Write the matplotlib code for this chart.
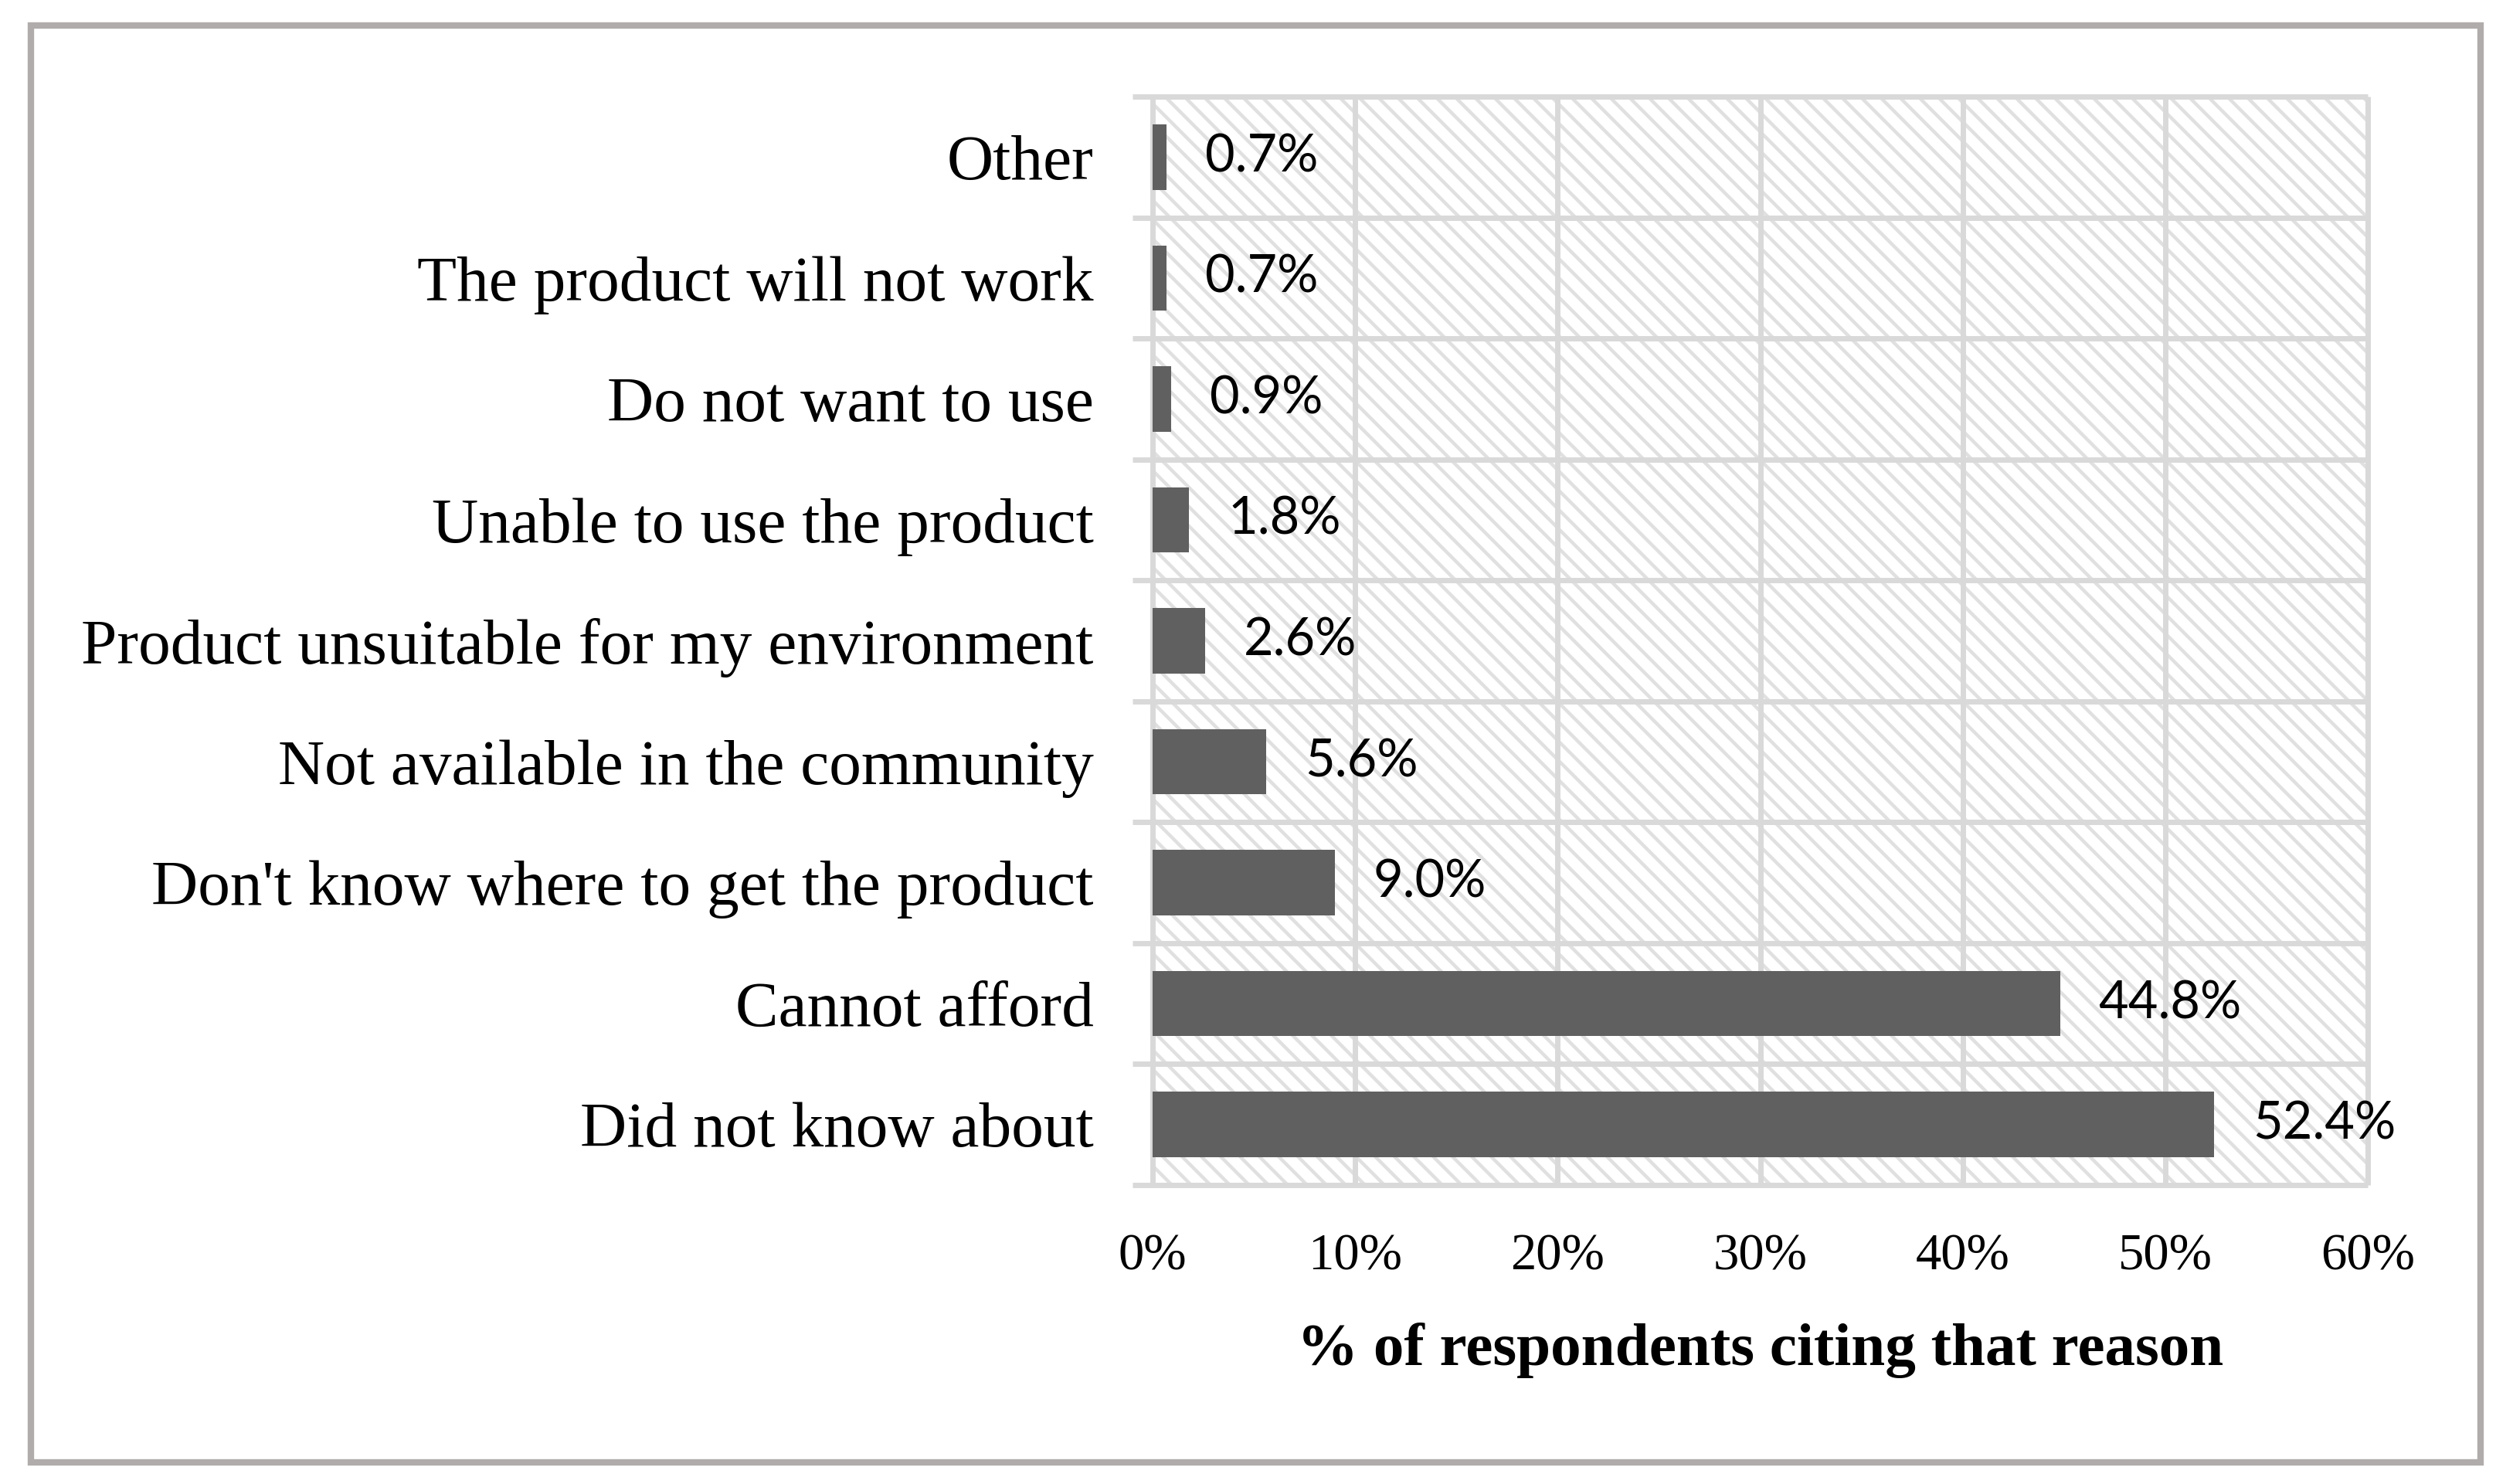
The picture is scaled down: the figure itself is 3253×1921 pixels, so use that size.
import matplotlib
matplotlib.use("Agg")
import matplotlib.pyplot as plt
from matplotlib.patches import Rectangle
from matplotlib.collections import LineCollection
import numpy as np

# reasons, bottom to top
reasons = ["Did not know about", "Cannot afford", "Don't know where to get the product",
           "Not available in the community", "Product unsuitable for my environment",
           "Unable to use the product", "Do not want to use", "The product will not work",
           "Other"]
pct = [52.4, 44.8, 9.0, 5.6, 2.6, 1.8, 0.9, 0.7, 0.7]
xticks = [0, 10, 20, 30, 40, 50, 60]

grid_col = "#d9d9d9"
bar_col = "#606060"
serif = ["Liberation Serif", "DejaVu Serif"]
sans = ["Lato", "DejaVu Sans"]

fig = plt.figure(figsize=(32.53, 19.21), dpi=100)
ax_px = (1492, 1534, 3065, 125)  # left, bottom, right, top in image pixels
W, H = ax_px[2] - ax_px[0], ax_px[1] - ax_px[3]
ax = fig.add_axes([ax_px[0]/3253, 1 - ax_px[1]/1921, W/3253, H/1921])

n = len(reasons)
y = np.arange(n)
ax.set_xlim(0, 60)
ax.set_ylim(-0.5, n - 0.5)

# diagonal stripe texture in the plot area (like excel's wide downward diagonal)
step = 25
segs = []
for x0 in np.arange(-H, W + step, step):
    segs.append([(x0 / W, 1.0), ((x0 + H) / W, 0.0)])
stripes = LineCollection(segs, transform=ax.transAxes, colors="#e0e0e0",
                         linewidths=3.2, zorder=0)
ax.add_collection(stripes, autolim=False)

# grid lines
ax.vlines(xticks, -0.5, n - 0.5, color=grid_col, lw=5, zorder=1, clip_on=False)
ax.hlines(np.arange(n + 1) - 0.5, -1.0, 60, color=grid_col, lw=5, zorder=1, clip_on=False)

ax.barh(y, pct, height=0.54, color=bar_col, zorder=2)

for yi, v in zip(y, pct):
    ax.annotate(f"{v:.1f}%", (v, yi), xytext=(36, 0), textcoords="offset points",
                ha="left", va="center", fontsize=48, family=sans, color="black", zorder=3)

ax.set_yticks(y)
ax.set_yticklabels(reasons, family=serif, fontsize=60)
ax.set_xticks(xticks)
ax.set_xticklabels([f"{t}%" for t in xticks], family=serif, fontsize=48)
ax.tick_params(axis="y", length=0, pad=55)
ax.tick_params(axis="x", length=0, pad=45)
for s in ax.spines.values():
    s.set_visible(False)

ax.set_xlabel("% of respondents citing that reason", family=serif, fontsize=57,
              fontweight="bold")
ax.xaxis.label.set_va("center")
ax.xaxis.set_label_coords(0.5, -(1748 - 1534) / H)

# outer frame
frame = Rectangle((40/3253, (1921-1893)/1921), (3211-40)/3253, (1893-33)/1921,
                  transform=fig.transFigure, facecolor="none", edgecolor="#b0acab", lw=6)
fig.patches.append(frame)

fig.savefig("out.png", dpi=100, facecolor="white")
